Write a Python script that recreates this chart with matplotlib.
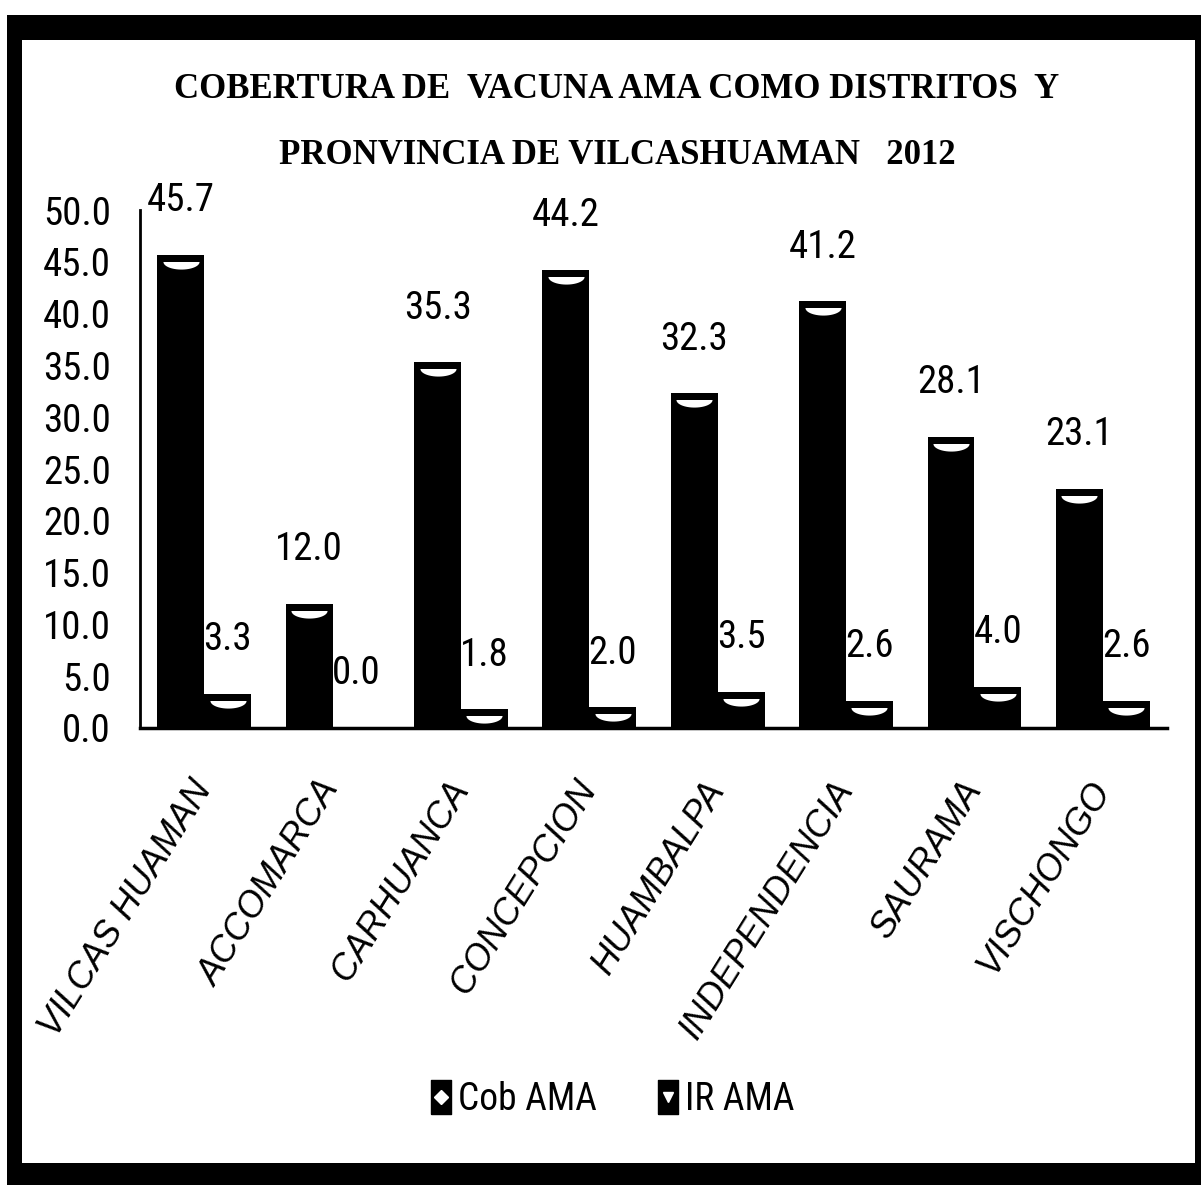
import numpy as np
import matplotlib
matplotlib.use("Agg")
import matplotlib.pyplot as plt
from matplotlib import font_manager
from matplotlib.path import Path
from matplotlib.patches import Rectangle
from matplotlib.lines import Line2D

# coverage data per district, Vilcashuaman 2012
districts = ["VILCAS HUAMAN", "ACCOMARCA", "CARHUANCA", "CONCEPCION",
             "HUAMBALPA", "INDEPENDENCIA", "SAURAMA", "VISCHONGO"]
cob_ama = [45.7, 12.0, 35.3, 44.2, 32.3, 41.2, 28.1, 23.1]
ir_ama = [3.3, 0.0, 1.8, 2.0, 3.5, 2.6, 4.0, 2.6]
series_names = ["Cob AMA", "IR AMA"]
y_ticks = [0, 5, 10, 15, 20, 25, 30, 35, 40, 45, 50]

title_lines = ["COBERTURA DE  VACUNA AMA COMO DISTRITOS  Y",
               "PRONVINCIA DE VILCASHUAMAN   2012"]

NARROW = ["Liberation Sans Narrow", "Roboto Condensed", "Open Sans Condensed",
          "Noto Sans Condensed", "DejaVu Sans Condensed"]


def pick_font(candidates, default):
    installed = {f.name for f in font_manager.fontManager.ttflist}
    for name in candidates:
        if name in installed:
            return name
    return default


sans = pick_font(NARROW, "DejaVu Sans")
label_font = [sans, "DejaVu Sans"]
italic_font = ["Liberation Sans", "DejaVu Sans"]
title_font = ["Liberation Serif", "DejaVu Serif"]

W, H = 1201, 1185
fig = plt.figure(figsize=(W / 100, H / 100), dpi=100)
fig.patch.set_facecolor("white")

# thick black frame around the chart
fig.patches.append(Rectangle((7 / W, 0), 1 - 7 / W, 1 - 15 / H,
                             transform=fig.transFigure, facecolor="black",
                             edgecolor="none", zorder=-10))
fig.patches.append(Rectangle((22 / W, 1 - 1163 / H), (1195 - 22) / W, (1163 - 40) / H,
                             transform=fig.transFigure, facecolor="white",
                             edgecolor="none", zorder=-9))

ax = fig.add_axes([140 / W, 1 - 728 / H, (1167 - 140) / W, (728 - 210) / H])
ax.set_facecolor("none")

x = np.arange(len(districts))
bw = 0.365
cob_x = x - bw / 2
ir_x = x + bw / 2
ax.bar(cob_x, cob_ama, bw, color="black", zorder=2)
ax.bar(ir_x, ir_ama, bw, color="black", zorder=2)

# white half-ellipse shine just under the top of each bar
t = np.linspace(0, np.pi, 30)
shine_verts = [(-1.0, -0.36), (1.0, -0.36)] + [(np.cos(s), -0.36 - 0.42 * np.sin(s)) for s in t]
shine_verts.append((-1.0, -0.36))
shine = Path(shine_verts)
for xs, vals in [(cob_x, cob_ama), (ir_x, ir_ama)]:
    for xi, v in zip(xs, vals):
        if v > 0:
            ax.plot(xi, v, marker=shine, markersize=26, color="white",
                    markeredgewidth=0, zorder=3, clip_on=False)

# value labels above the bars
for xs, vals in [(cob_x, cob_ama), (ir_x, ir_ama)]:
    for xi, v in zip(xs, vals):
        ax.annotate(f"{v:.1f}", (xi, v), xytext=(0, 39), textcoords="offset points",
                    ha="center", va="center", fontsize=28, family=label_font)

ax.set_xlim(-0.5, len(districts) - 0.5)
ax.set_ylim(0, 50)
ax.set_yticks(y_ticks)
ax.set_yticklabels([f"{v:.1f}" for v in y_ticks], fontsize=28, family=label_font)
ax.tick_params(axis="y", length=0, pad=21)
ax.set_xticks(x)
ax.set_xticklabels(districts, rotation=58, ha="right", va="center",
                   rotation_mode="anchor", fontsize=26, style="italic",
                   family=italic_font)
ax.tick_params(axis="x", length=0, pad=40)

for side in ["top", "right"]:
    ax.spines[side].set_visible(False)
ax.spines["left"].set_linewidth(2)
ax.spines["bottom"].set_linewidth(2.5)

for i, line in enumerate(title_lines):
    fig.text(617 / W, 1 - (89 + 67 * i) / H, line, ha="center", va="center",
             fontsize=25, fontweight="bold", family=title_font)

# legend: black box with a small white notch
tall_box = Path([(-0.6, -1), (0.6, -1), (0.6, 1), (-0.6, 1), (-0.6, -1)])
handles = []
for mk in ["D", "v"]:
    box = Line2D([], [], marker=tall_box, markersize=24, color="black", linestyle="none")
    notch = Line2D([], [], marker=mk, markersize=7, color="white", linestyle="none")
    handles.append((box, notch))
fig.legend(handles, series_names, loc="center", bbox_to_anchor=(612 / W, 1 - 1100 / H),
           ncol=2, frameon=False, prop={"family": label_font, "size": 27},
           handlelength=0.6, handletextpad=0.15, columnspacing=1.6)

fig.savefig("out.png", dpi=100, facecolor="white")
